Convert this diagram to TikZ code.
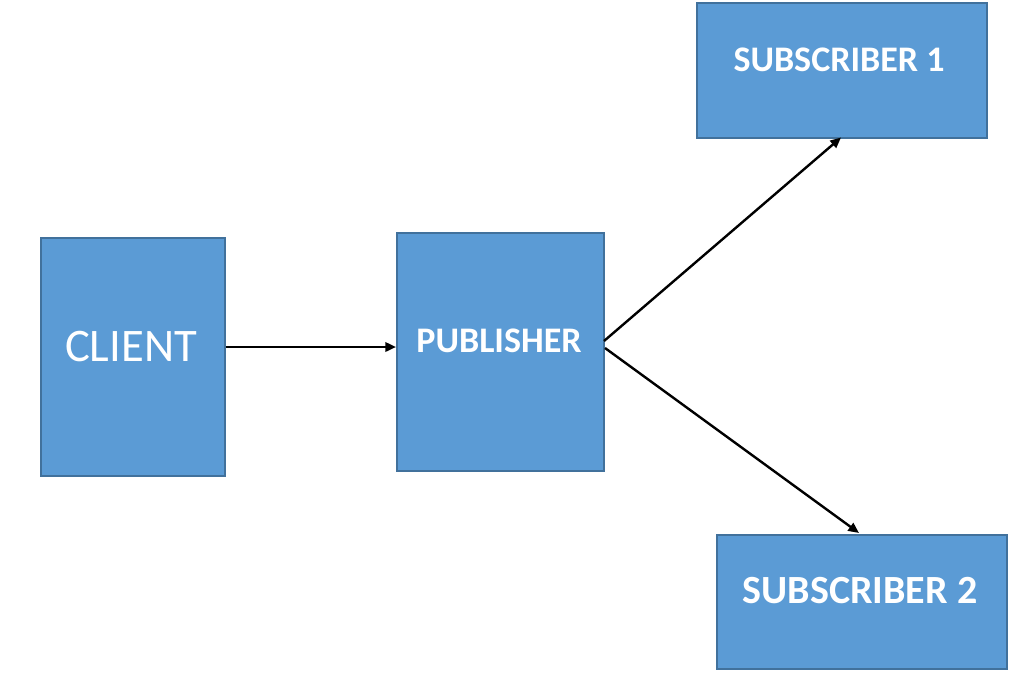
\documentclass[tikz,border=0pt]{standalone}
\usepackage{fontspec}
\setmainfont{Carlito}
\usetikzlibrary{arrows.meta}
\definecolor{boxfill}{HTML}{5B9BD5}
\definecolor{boxline}{HTML}{41719C}
\tikzset{
  blockbox/.style={draw=boxline, fill=boxfill, line width=1.3pt, inner sep=0pt, anchor=north west},
  boldlbl/.style={text=white, font=\fontsize{27}{30}\selectfont\bfseries, inner sep=0pt},
  plainlbl/.style={text=white, font=\fontsize{35}{40}\selectfont, inner sep=0pt},
  conn/.style={line width=1.8pt, -{Triangle[length=8pt,width=7pt]}}
}
\begin{document}
\begin{tikzpicture}[x=0.75pt,y=-0.75pt]
\useasboundingbox (0,0) rectangle (1019,675);
\node[blockbox, minimum width=184*0.75pt, minimum height=238*0.75pt] (client) at (40,237) {};
\node[blockbox, minimum width=207*0.75pt, minimum height=238*0.75pt] (pub) at (396,232) {};
\node[blockbox, minimum width=290*0.75pt, minimum height=135*0.75pt] (sub1) at (696,2) {};
\node[blockbox, minimum width=290*0.75pt, minimum height=134*0.75pt] (sub2) at (716,534) {};
\node[plainlbl] (clientt) at (131,347) {CLIENT};
\node[boldlbl] (pubt) at (499,341) {PUBLISHER};
\node[boldlbl] (sub1t) at (839,60) {SUBSCRIBER 1};
\node[boldlbl, font=\fontsize{30}{33}\selectfont\bfseries] (sub2t) at (860,591) {SUBSCRIBER 2};
\coordinate (pubo1) at (604,341);
\coordinate (pubo2) at (605,348);
\draw[conn] (client.east |- 0,347) -- (pub.west |- 0,347);
\draw[conn] (pubo1) -- (841,137.5);
\draw[conn] (pubo2) -- (859,533);
\end{tikzpicture}
\end{document}
